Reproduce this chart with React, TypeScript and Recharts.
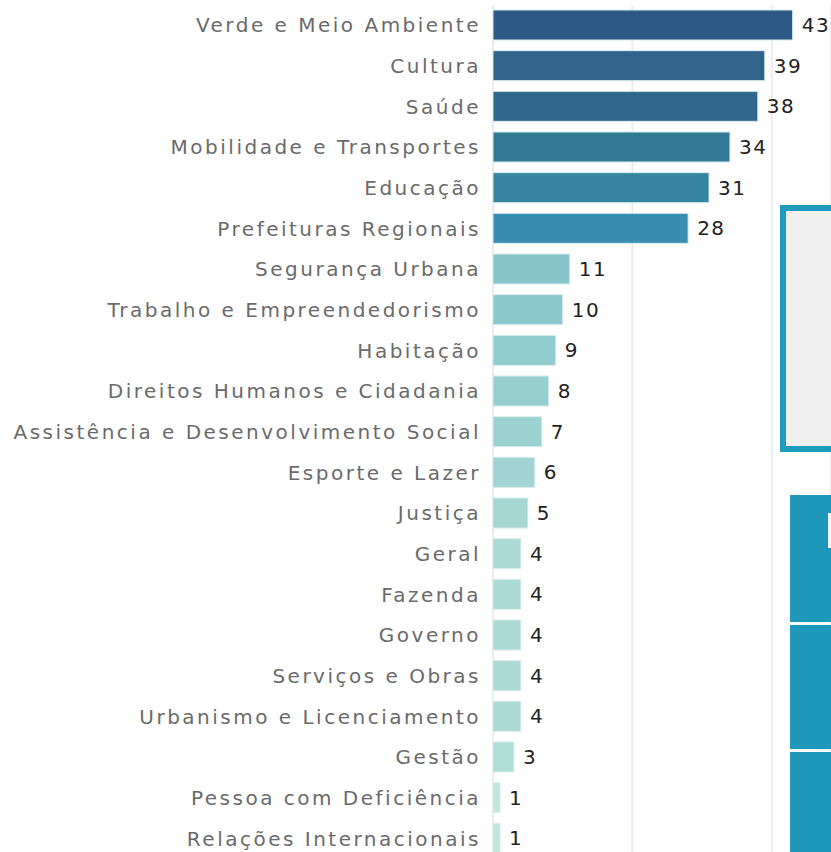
import React from "react";
import { BarChart, Bar, XAxis, YAxis, CartesianGrid, Cell, LabelList } from "recharts";

const CATEGORIES = [
  "Verde e Meio Ambiente",
  "Cultura",
  "Saúde",
  "Mobilidade e Transportes",
  "Educação",
  "Prefeituras Regionais",
  "Segurança Urbana",
  "Trabalho e Empreendedorismo",
  "Habitação",
  "Direitos Humanos e Cidadania",
  "Assistência e Desenvolvimento Social",
  "Esporte e Lazer",
  "Justiça",
  "Geral",
  "Fazenda",
  "Governo",
  "Serviços e Obras",
  "Urbanismo e Licenciamento",
  "Gestão",
  "Pessoa com Deficiência",
  "Relações Internacionais",
];

const VALUES = [43, 39, 38, 34, 31, 28, 11, 10, 9, 8, 7, 6, 5, 4, 4, 4, 4, 4, 3, 1, 1];

const X_TICKS = [0, 20, 40];

// bar fill, one per category (darker = more)
const BAR_COLORS = [
  "#2d5986", "#30648b", "#31678d", "#327996", "#3484a2", "#398dae",
  "#86c5cb", "#8bc8cd", "#90cbcf", "#96cecf", "#9bd2d1", "#a1d4d2",
  "#a6d7d3", "#acdad5", "#acdad5", "#acdad5", "#acdad5", "#acdad5",
  "#b1ddd7", "#c0e6dd", "#c0e6dd",
];

const data = CATEGORIES.map((name, i) => ({ name, value: VALUES[i] }));

const FONT = "'DejaVu Sans', sans-serif";

export default function App() {
  return (
    <div
      style={{
        position: "absolute",
        left: 0,
        top: 0,
        width: 831,
        height: 852,
        overflow: "hidden",
        background: "#fff",
      }}
    >
      <BarChart
        width={831}
        height={859}
        data={data}
        layout="vertical"
        margin={{ top: 5, right: 0, left: 0, bottom: 0 }}
      >
        <CartesianGrid horizontal={false} stroke="#ececec" strokeWidth={2} />
        <XAxis type="number" hide domain={[0, 48.5]} ticks={X_TICKS} />
        <YAxis
          dataKey="name"
          type="category"
          width={493}
          axisLine={false}
          tickLine={false}
          tickSize={0}
          tickMargin={12}
          interval={0}
          tick={{ fontSize: 20, fill: "#6a6a6a", fontFamily: FONT, letterSpacing: 2.5 }}
        />
        <Bar dataKey="value" barSize={30} isAnimationActive={false}>
          {data.map((d, i) => (
            <Cell key={d.name} fill={BAR_COLORS[i]} stroke="#d8ecef" strokeWidth={1} />
          ))}
          <LabelList
            dataKey="value"
            position="right"
            offset={9}
            style={{ fontSize: 20, fill: "#222", fontFamily: FONT, letterSpacing: 1.5 }}
          />
        </Bar>
      </BarChart>

      {/* neighbouring dashboard panels, cut off at the right edge */}
      <div
        style={{
          position: "absolute",
          left: 780,
          top: 205,
          width: 60,
          height: 247,
          boxSizing: "border-box",
          border: "6px solid #1e9bbd",
          background: "#f0f0f0",
        }}
      />
      <div style={{ position: "absolute", left: 790, top: 495, width: 50, height: 127, background: "#1e98bb" }}>
        <div style={{ position: "absolute", left: 38, top: 18, width: 4, height: 35, background: "#f4f8fa" }} />
      </div>
      <div style={{ position: "absolute", left: 790, top: 625, width: 50, height: 124, background: "#1e98bb" }} />
      <div style={{ position: "absolute", left: 790, top: 752, width: 50, height: 110, background: "#1e98bb" }} />
    </div>
  );
}
